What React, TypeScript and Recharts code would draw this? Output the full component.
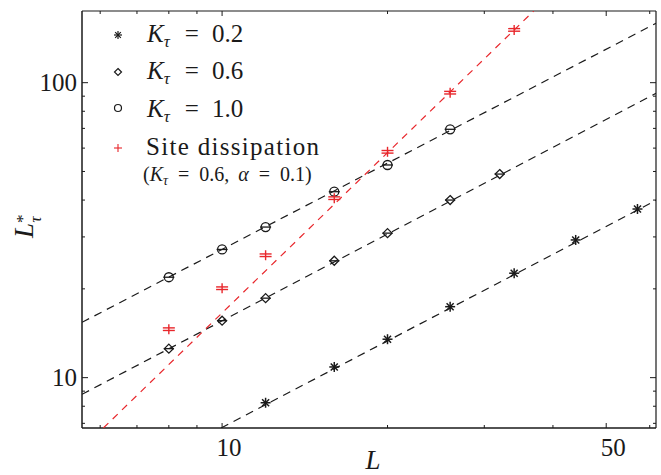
import React from "react";
import { ComposedChart, Scatter, XAxis, YAxis, Legend } from "recharts";

const L_K02 = [12, 16, 20, 26, 34, 44, 57];
const Y_K02 = [8.22, 10.87, 13.5, 17.4, 22.6, 29.3, 37.3];
const L_K06 = [8, 10, 12, 16, 20, 26, 32];
const Y_K06 = [12.54, 15.6, 18.6, 24.9, 30.9, 40.0, 49.0];
const L_K10 = [8, 10, 12, 16, 20, 26];
const Y_K10 = [21.9, 27.2, 32.4, 42.7, 52.6, 69.5];
const L_SITE = [8, 10, 12, 16, 20, 26, 34];
const Y_SITE = [14.6, 20.1, 26.0, 40.6, 58.3, 92.5, 151];

// dashed fit lines (end points at the frame edges)
const FIT_K02_L = [9.96, 61.6];
const FIT_K02_Y = [6.75, 39.9];
const FIT_K06_L = [5.56, 61.6];
const FIT_K06_Y = [8.78, 92];
const FIT_K10_L = [5.56, 61.6];
const FIT_K10_Y = [15.4, 159];
const FIT_SITE_L = [6.08, 36.9];
const FIT_SITE_Y = [6.75, 175];

const X_DOMAIN = [5.56, 61.6];
const Y_DOMAIN = [6.75, 175];
const X_TICKS = [6, 7, 8, 9, 10, 20, 30, 40, 50, 60];
const X_LABELS = [10, 50];
const Y_TICKS = [7, 8, 9, 10, 20, 30, 40, 50, 60, 70, 80, 90, 100];
const Y_LABELS = [10, 100];

const FONT = "Liberation Serif, Times New Roman, DejaVu Serif, serif";
const INK = "#1a1a1a";
const RED = "#e8262b";
const txt = { fontFamily: FONT };

const pts = (xs: number[], ys: number[]) => xs.map((x, i) => ({ x, y: ys[i] }));

function Star({ cx, cy, r = 5, w = 1.5 }: any) {
  const d = r * 0.7071;
  return (
    <g stroke={INK} strokeWidth={w}>
      <line x1={cx - r} y1={cy} x2={cx + r} y2={cy} />
      <line x1={cx} y1={cy - r} x2={cx} y2={cy + r} />
      <line x1={cx - d} y1={cy - d} x2={cx + d} y2={cy + d} />
      <line x1={cx - d} y1={cy + d} x2={cx + d} y2={cy - d} />
    </g>
  );
}

function Diamond({ cx, cy, r = 4.5, w = 1.3, bar = true }: any) {
  return (
    <g stroke={INK} strokeWidth={w} fill="none">
      <path d={`M${cx} ${cy - r}L${cx + r} ${cy}L${cx} ${cy + r}L${cx - r} ${cy}Z`} />
      {bar && <line x1={cx - 5} y1={cy} x2={cx + 5} y2={cy} />}
    </g>
  );
}

function Ring({ cx, cy, r = 4.5, w = 1.3, bar = true }: any) {
  return (
    <g stroke={INK} strokeWidth={w} fill="none">
      <circle cx={cx} cy={cy} r={r} />
      {bar && <line x1={cx - 5.5} y1={cy} x2={cx + 5.5} y2={cy} />}
    </g>
  );
}

function RedPlus({ cx, cy, r = 5, w = 1.4, bar = true }: any) {
  return (
    <g stroke={RED} strokeWidth={w}>
      <line x1={cx} y1={cy - r} x2={cx} y2={cy + r} />
      {bar ? (
        <>
          <line x1={cx - 6} y1={cy - 1.3} x2={cx + 6} y2={cy - 1.3} />
          <line x1={cx - 6} y1={cy + 1.3} x2={cx + 6} y2={cy + 1.3} />
        </>
      ) : (
        <line x1={cx - r} y1={cy} x2={cx + r} y2={cy} />
      )}
    </g>
  );
}

function BottomTick({ x, y, payload }: any) {
  const major = X_LABELS.includes(payload.value);
  return (
    <g>
      <line x1={x} y1={y} x2={x} y2={y - (major ? 5 : 3)} stroke={INK} strokeWidth={1} />
      {major && (
        <text x={x + 7} y={y + 28} textAnchor="middle" style={txt} fontSize={25} fill={INK}>
          {payload.value}
        </text>
      )}
    </g>
  );
}

function TopTick({ x, y, payload }: any) {
  const major = X_LABELS.includes(payload.value);
  return <line x1={x} y1={y} x2={x} y2={y + (major ? 5 : 3)} stroke={INK} strokeWidth={1} />;
}

function LeftTick({ x, y, payload }: any) {
  const major = Y_LABELS.includes(payload.value);
  return (
    <g>
      <line x1={x} y1={y} x2={x + (major ? 6 : 3)} y2={y} stroke={INK} strokeWidth={1} />
      {major && (
        <text x={x - 5} y={y + 8} textAnchor="end" style={txt} fontSize={25} fill={INK}>
          {payload.value}
        </text>
      )}
    </g>
  );
}

function RightTick({ x, y, payload }: any) {
  const major = Y_LABELS.includes(payload.value);
  return <line x1={x} y1={y} x2={x - (major ? 6 : 3)} y2={y} stroke={INK} strokeWidth={1} />;
}

function XLabel({ viewBox }: any) {
  const { x, y, width } = viewBox;
  return (
    <text x={x + width / 2 + 4} y={y + 41} textAnchor="middle" style={txt} fontStyle="italic" fontSize={27} fill={INK}>
      L
    </text>
  );
}

function YLabel({ viewBox }: any) {
  const bx = viewBox.x + 33;
  const by = 238;
  return (
    <text x={bx} y={by} transform={`rotate(-90 ${bx} ${by})`} style={txt} fontSize={27} fill={INK}>
      <tspan fontStyle="italic">L</tspan>
      <tspan fontSize={17} dy={-5}>*</tspan>
      <tspan fontSize={17} fontStyle="italic" dx={-8} dy={13}>τ</tspan>
    </text>
  );
}

function KLine({ y, value }: { y: number; value: string }) {
  return (
    <text x={147} y={y} style={txt} fontSize={25} fill={INK}>
      <tspan fontStyle="italic">K</tspan>
      <tspan fontStyle="italic" fontSize={17} dy={5}>τ</tspan>
      <tspan dy={-5} dx={15}>=</tspan>
      <tspan dx={13}>{value}</tspan>
    </text>
  );
}

function LegendBox() {
  return (
    <svg width={340} height={190} style={{ display: "block" }}>
      <Star cx={118} cy={35} r={4} w={1.2} />
      <Diamond cx={118} cy={72} r={3.5} w={1.2} bar={false} />
      <Ring cx={118} cy={108} r={3.5} w={1.2} bar={false} />
      <RedPlus cx={118} cy={148} r={4} w={1.1} bar={false} />
      <KLine y={42} value="0.2" />
      <KLine y={79} value="0.6" />
      <KLine y={117} value="1.0" />
      <text x={146} y={155} style={txt} fontSize={25} letterSpacing={1.3} fill={INK}>
        Site dissipation
      </text>
      <text x={143} y={181} style={txt} fontSize={20} fill={INK}>
        (<tspan fontStyle="italic">K</tspan>
        <tspan fontStyle="italic" fontSize={14} dy={4}>τ</tspan>
        <tspan dy={-4} dx={10}>=</tspan>
        <tspan dx={10}>0.6,</tspan>
        <tspan dx={9} fontStyle="italic">α</tspan>
        <tspan dx={10}>=</tspan>
        <tspan dx={10}>0.1)</tspan>
      </text>
    </svg>
  );
}

const dashBlack = { stroke: INK, strokeWidth: 1.2, strokeDasharray: "8 6" };
const dashRed = { stroke: RED, strokeWidth: 1.2, strokeDasharray: "7 6" };
const noDot = () => <g />;

export default function App() {
  return (
    <div style={{ position: "absolute", left: 0, top: 0, background: "#fff" }}>
      <ComposedChart width={661} height={475} margin={{ top: 0, right: 0, bottom: 0, left: 0 }}>
        <XAxis
          xAxisId="b"
          dataKey="x"
          type="number"
          scale="log"
          domain={X_DOMAIN}
          allowDataOverflow
          ticks={X_TICKS}
          interval={0}
          height={47}
          tickSize={0}
          tickMargin={0}
          tickLine={false}
          axisLine={{ stroke: INK, strokeWidth: 1.5 }}
          tick={<BottomTick />}
          label={<XLabel />}
        />
        <XAxis
          xAxisId="t"
          orientation="top"
          dataKey="x"
          type="number"
          scale="log"
          domain={X_DOMAIN}
          allowDataOverflow
          ticks={X_TICKS}
          interval={0}
          height={11}
          tickSize={0}
          tickMargin={0}
          tickLine={false}
          axisLine={{ stroke: INK, strokeWidth: 1.2 }}
          tick={<TopTick />}
        />
        <YAxis
          yAxisId="l"
          dataKey="y"
          type="number"
          scale="log"
          domain={Y_DOMAIN}
          allowDataOverflow
          ticks={Y_TICKS}
          interval={0}
          width={82}
          tickSize={0}
          tickMargin={0}
          tickLine={false}
          axisLine={{ stroke: INK, strokeWidth: 1.5 }}
          tick={<LeftTick />}
          label={<YLabel />}
        />
        <YAxis
          yAxisId="r"
          orientation="right"
          dataKey="y"
          type="number"
          scale="log"
          domain={Y_DOMAIN}
          allowDataOverflow
          ticks={Y_TICKS}
          interval={0}
          width={5}
          tickSize={0}
          tickMargin={0}
          tickLine={false}
          axisLine={{ stroke: INK, strokeWidth: 1.2 }}
          tick={<RightTick />}
        />
        <Legend
          layout="vertical"
          align="center"
          verticalAlign="middle"
          wrapperStyle={{ left: 0, top: 0, width: 340, height: 190 }}
          content={() => <LegendBox />}
        />

        <Scatter xAxisId="b" yAxisId="l" data={pts(FIT_K02_L, FIT_K02_Y)} line={dashBlack} shape={noDot} legendType="none" isAnimationActive={false} />
        <Scatter xAxisId="b" yAxisId="l" data={pts(FIT_K06_L, FIT_K06_Y)} line={dashBlack} shape={noDot} legendType="none" isAnimationActive={false} />
        <Scatter xAxisId="b" yAxisId="l" data={pts(FIT_K10_L, FIT_K10_Y)} line={dashBlack} shape={noDot} legendType="none" isAnimationActive={false} />
        <Scatter xAxisId="b" yAxisId="l" data={pts(FIT_SITE_L, FIT_SITE_Y)} line={dashRed} shape={noDot} legendType="none" isAnimationActive={false} />

        <Scatter xAxisId="b" yAxisId="l" name="K=0.2" data={pts(L_K02, Y_K02)} shape={(p: any) => <Star cx={p.cx} cy={p.cy} />} isAnimationActive={false} />
        <Scatter xAxisId="b" yAxisId="l" name="K=0.6" data={pts(L_K06, Y_K06)} shape={(p: any) => <Diamond cx={p.cx} cy={p.cy} />} isAnimationActive={false} />
        <Scatter xAxisId="b" yAxisId="l" name="K=1.0" data={pts(L_K10, Y_K10)} shape={(p: any) => <Ring cx={p.cx} cy={p.cy} />} isAnimationActive={false} />
        <Scatter xAxisId="b" yAxisId="l" name="Site" data={pts(L_SITE, Y_SITE)} shape={(p: any) => <RedPlus cx={p.cx} cy={p.cy} />} isAnimationActive={false} />
      </ComposedChart>
    </div>
  );
}
